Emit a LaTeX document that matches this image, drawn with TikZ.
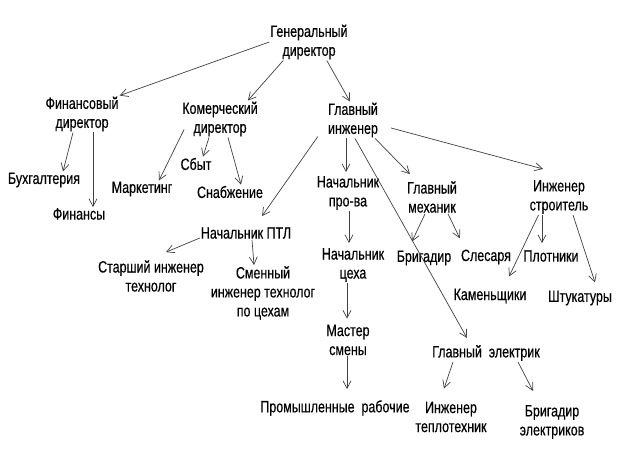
\documentclass[tikz,border=0pt]{standalone}
\usepackage{fontspec}
\setmainfont{Liberation Sans}[FakeStretch=0.76, FakeBold=0.4]
\usetikzlibrary{arrows.meta}

\begin{document}
\begin{tikzpicture}[x=1pt, y=-1pt,
		lbl/.style={align=center, inner sep=1pt, font=\fontsize{16.4}{19}\selectfont},
		arr/.style={line width=0.7pt, color=black!75, -{Straight Barb[length=7.5pt, width=8pt]}}]
			%%%%% START %%%%%
			
			\useasboundingbox (0, 0) rectangle (624, 454);
			
			\node[lbl] (gen) at (309, 42) {Генеральный\\директор};
			
			\node[lbl] (fin) at (82, 114) {Финансовый\\директор};
			\node[lbl] (kom) at (220, 119) {Комерческий\\директор};
			\node[lbl] (glinzh) at (353, 120) {Главный\\инженер};
			
			\node[lbl] (buh) at (44, 180) {Бухгалтерия};
			\node[lbl] (finansy) at (79, 214) {Финансы};
			\node[lbl] (mark) at (142, 189) {Маркетинг};
			\node[lbl] (sbyt) at (196, 164) {Сбыт};
			\node[lbl] (snab) at (230, 192) {Снабжение};
			
			\node[lbl] (ptl) at (246, 233) {Начальник ПТЛ};
			\node[lbl] (nachpr) at (348, 193) {Начальник\\про-ва};
			\node[lbl] (glmeh) at (432, 197) {Главный\\механик};
			\node[lbl] (inzhstr) at (559, 197) {Инженер\\строитель};
			
			\node[lbl] (starsh) at (151, 276) {Старший инженер\\технолог};
			\node[lbl] (smen) at (263, 293) {Сменный\\инженер технолог\\по цехам};
			\node[lbl] (nachceh) at (353, 265) {Начальник\\цеха};
			\node[lbl] (master) at (348, 340) {Мастер\\смены};
			\node[lbl] (prom) at (335, 408) {Промышленные\ \ рабочие};
			
			\node[lbl] (brig) at (424, 258) {Бригадир};
			\node[lbl] (sles) at (486, 257) {Слесаря};
			\node[lbl] (plot) at (551, 256) {Плотники};
			\node[lbl] (kamen) at (490, 296) {Каменьщики};
			\node[lbl] (shtuk) at (580, 298) {Штукатуры};
			
			\node[lbl] (glel) at (486, 353) {Главный\ \ электрик};
			\node[lbl] (inzhtep) at (451, 417) {Инженер\\теплотехник};
			\node[lbl] (brigel) at (552, 422) {Бригадир\\электриков};
			
			\draw[arr] (gen.west) -- (fin.north east);
			\draw[arr] ([xshift=14pt]gen.south west) -- ([xshift=-11pt]kom.north east);
			\draw[arr] ([xshift=-22pt]gen.south east) -- ([xshift=-3pt]glinzh.north);
			
			\draw[arr] ([xshift=-9pt]fin.south) -- ([xshift=19pt]buh.north);
			\draw[arr] ([xshift=11pt]fin.south) -- ([xshift=14pt]finansy.north);
			
			\draw[arr] ([xshift=3pt, yshift=8pt]kom.south west) -- ([xshift=17pt]mark.north);
			\draw[arr] ([xshift=-11pt]kom.south) -- ([xshift=7pt]sbyt.north);
			\draw[arr] ([xshift=8pt]kom.south) -- ([xshift=11pt]snab.north);
			
			\draw[arr] ([xshift=-9pt, yshift=2pt]glinzh.south west) -- ([xshift=16pt, yshift=10pt]ptl.north);
			\draw[arr] ([xshift=-7pt]glinzh.south) -- ([xshift=-2pt, yshift=3pt]nachpr.north);
			\draw[arr] ([xshift=-4pt]glinzh.south east) -- ([xshift=4pt, yshift=6pt]glmeh.north west);
			\draw[arr] ([xshift=12pt, yshift=-8pt]glinzh.east) -- ([xshift=-16pt, yshift=10pt]inzhstr.north);
			\draw[arr] ([xshift=2pt]glinzh.south) -- ([xshift=-19pt, yshift=6pt]glel.north);
			
			\draw[arr] ([xshift=1pt]nachpr.south) -- ([xshift=-4pt, yshift=4pt]nachceh.north);
			\draw[arr] ([xshift=-6pt]nachceh.south) -- ([xshift=-1pt, yshift=5pt]master.north);
			\draw[arr] ([xshift=-1pt]master.south) -- ([xshift=12pt, yshift=10pt]prom.north);
			
			\draw[arr] ([xshift=-7pt]glmeh.south) -- ([xshift=-12pt, yshift=8pt]brig.north);
			\draw[arr] ([xshift=16pt]glmeh.south) -- ([yshift=10pt]sles.north west);
			
			\draw[arr] ([xshift=10pt]inzhstr.south west) -- ([xshift=19pt, yshift=11pt]kamen.north);
			\draw[arr] ([xshift=-17pt]inzhstr.south) -- ([xshift=-9pt, yshift=6pt]plot.north);
			\draw[arr] ([xshift=14pt]inzhstr.south) -- ([xshift=15pt, yshift=7pt]shtuk.north);
			
			\draw[arr] ([yshift=-5pt]ptl.west) -- ([xshift=15pt, yshift=7pt]starsh.north);
			\draw[arr] ([xshift=6pt]ptl.south) -- ([xshift=-9pt]smen.north);
			
			\draw[arr] ([xshift=-33pt]glel.south) -- ([xshift=-7pt, yshift=12pt]inzhtep.north);
			\draw[arr] ([xshift=32pt]glel.south) -- ([xshift=-19pt, yshift=13pt]brigel.north);
			
			%%%%% END %%%%%
		\end{tikzpicture}
\end{document}
